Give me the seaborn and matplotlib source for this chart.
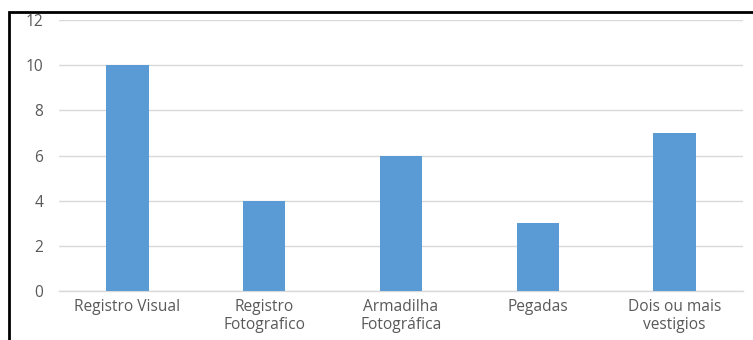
import matplotlib
matplotlib.use("Agg")
import matplotlib.pyplot as plt
import matplotlib.patches as mpatches
import seaborn as sns
import pandas as pd

categories = ["Registro Visual", "Registro\nFotografico", "Armadilha\nFotográfica",
              "Pegadas", "Dois ou mais\nvestigios"]
values = [10, 4, 6, 3, 7]
y_ticks = [0, 2, 4, 6, 8, 10, 12]

sns.set_style("white")
plt.rcParams["font.family"] = ["Open Sans", "DejaVu Sans"]

df = pd.DataFrame({"categoria": categories, "valor": values})

fig = plt.figure(figsize=(7.53, 3.40), dpi=100)
ax = fig.add_axes([59 / 753, 1 - 291 / 340, 684 / 753, 271 / 340])

sns.barplot(data=df, x="categoria", y="valor", color="#5B9BD5", width=0.31,
            saturation=1, linewidth=0, ax=ax, zorder=3)

ax.set_ylim(0, 12)
ax.set_yticks(y_ticks)
ax.set_xlim(-0.5, len(categories) - 0.5)
ax.set_xlabel("")
ax.set_ylabel("")
ax.grid(axis="y", color="#d9d9d9", linewidth=1, zorder=0)
for side in ["top", "right", "left"]:
    ax.spines[side].set_visible(False)
ax.spines["bottom"].set_color("#d9d9d9")
ax.spines["bottom"].set_linewidth(1)
ax.tick_params(axis="both", length=0, colors="#595959", labelsize=11.2)
ax.tick_params(axis="y", pad=11.5)
ax.tick_params(axis="x", pad=6)
for lbl in ax.get_xticklabels():
    lbl.set_linespacing(1.15)

# frame around the chart area
frame = mpatches.Rectangle((8.5 / 753, -0.05), 2.0, 1 - 11.5 / 340 + 0.05,
                           transform=fig.transFigure, fill=False,
                           edgecolor="black", linewidth=2)
fig.patches.append(frame)

fig.savefig("out.png", dpi=100, facecolor="white")
